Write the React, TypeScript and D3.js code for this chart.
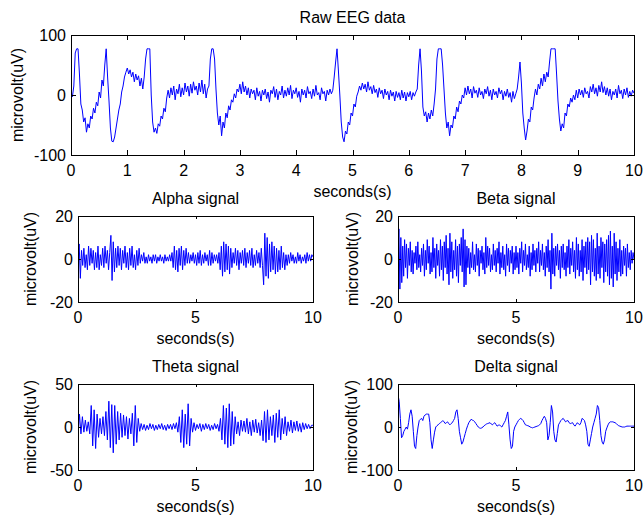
import * as d3 from "d3";

// values, evenly spaced over 0..10 s
// raw EEG, 0.025 s step (40 per second)
const rawEEG = [
  5, -3, 15, 70, 77, 77, 35, -15, -25, -45, -38, -62, -48, -55, -35, -40, -22, -30, -12, -18, 5, -5, 25, 15, 50, 77, 30, -10, -55, -77, -78, -70, -55, -40, -25, -15, 5, 15, 30, 38,
  45, 35, 42, 30, 38, 22, 35, 25, 32, 15, 28, 10, 30, 60, 77, 77, 77, 0, -45, -62, -55, -64, -48, -52, -35, -40, -22, -28, -5, 8, -5, 12, 0, 15, -8, 10, 2, 18, -3, 12,
  0, 20, 5, 15, -2, 18, 3, 22, 8, 15, 0, 20, 5, 25, 2, 18, -5, 10, 15, 60, 77, 77, 60, 10, -30, -50, -35, -68, -45, -55, -30, -38, -18, -25, -8, -12, 2, -5, 10, 5,
  18, 2, 22, 5, 15, 0, 12, -5, 10, 2, 8, -8, 12, -2, 6, -10, 8, 0, 10, -6, 5, -12, 8, 2, 14, -4, 10, -8, 6, 0, 15, -5, 8, -2, 12, 0, 16, -6, 8, 2,
  12, -4, 6, -12, 10, 0, 8, -5, 14, 2, 6, -6, 10, -2, 16, 0, 4, -8, 12, 2, 6, -10, 8, 0, 10, 2, 8, 30, 55, 77, 40, 0, -45, -70, -78, -60, -65, -45, -50, -30,
  -35, -15, -20, -2, 5, 15, 8, 20, 10, 18, 5, 22, 8, 14, 2, 16, 4, 10, -4, 12, 2, 8, -6, 10, 0, 6, -8, 8, -2, 5, -10, 6, -4, 4, -8, 8, -5, 5, -10, 4,
  -3, 6, -8, 4, -2, 5, 10, 50, 77, 40, -20, -35, -28, -45, -30, -40, -25, -35, -15, 10, 60, 77, 77, 77, 50, 10, -30, -55, -45, -68, -50, -55, -35, -40, -20, -28, -10, -15, 0, -5,
  12, 0, 15, 2, 10, -5, 14, 3, 8, -4, 12, 0, 6, -6, 10, 2, 14, -2, 8, -8, 10, 0, 6, -5, 12, 2, 8, -8, 6, -2, 10, -4, 4, -12, 6, -6, 2, 10, 30, 55,
  20, -30, -55, -75, -60, -40, -45, -20, -25, -5, 10, 0, 18, 10, 28, 15, 35, 22, 38, 30, 55, 77, 77, 77, 77, 35, -10, -40, -60, -48, -55, -30, -35, -15, -20, -5, -12, 0, -8, 8,
  -5, 10, 0, 8, -4, 12, 2, 6, -5, 14, 5, 18, 2, 12, -2, 16, 5, 22, 4, 14, 0, 12, -2, 10, -8, 6, 0, 10, -5, 16, 2, 8, -6, 10, 0, 12, -4, 6, -2, 8,
  3,
];

// alpha band, 0.05 s step
const alphaWave = [
  0, 7, -9, 4, -3, 5, -4, 2, -5, 6, -3, 5, -2, 4, -5, 3, -4, 6, -5, 2,
  -3, 5, -4, 6, -2, 4, -5, 3, 11, -10, 8, -6, 5, -4, 6, -3, 5, -5, 4, -2,
  6, -4, 3, -5, 5, -3, 6, -4, 2, -5, 4, -3, 5, -2, 2, -1, 3, -2, 1, -2,
  2, -1, 1, -2, 2, -1, 2, -2, 1, -1, 2, -1, 1, -2, 2, -1, 1, -1, 2, -1,
  3, -4, 6, -5, 4, -6, 5, -3, 6, -5, 4, -3, 5, -2, 3, -2, 2, -1, 3, -2,
  2, -3, 3, -2, 4, -3, 2, -2, 3, -1, 2, -3, 4, -3, 3, -2, 2, -1, 2, -2,
  3, -5, 6, -8, 8, -6, 7, -5, 6, -7, 5, -4, 3, -2, 5, -3, 4, -5, 3, -2,
  4, -3, 5, -4, 3, -2, 4, -3, 5, -4, 2, -3, 4, -2, 3, -4, 5, -3, -12, 12,
  -8, 10, -9, 7, -6, 8, -5, 6, -7, 5, -6, 4, -5, 6, -4, 3, -5, 2, -3, 2,
  -2, 3, -1, 2, -2, 1, -2, 3, -1, 2, -2, 1, -1, 2, -2, 3, -1, 2, -1, 2,
  1,
];

// beta band, 0.04 s step
const betaWave = [
  0, 14, -14, 10, -11, 6, -8, 9, -4, 7, -9, 5, -3, 8, -6, 4, -7, 3, -2, 6, -5, 8, -4, 2, -6,
  5, -3, 7, -8, 4, -5, 9, -2, 6, -7, 3, -6, 10, -4, 5, -9, 7, -3, 4, -8, 9, -5, 6, -10, 8,
  -4, 11, -7, 5, -12, 12, -6, 8, -9, 4, -5, 9, -8, 6, -11, 7, -3, 10, -6, 14, -13, 9, -12, 6, -4,
  5, -7, 3, -4, 8, -5, 2, -6, 7, -3, 5, -8, 4, -2, 6, -5, 3, -7, 10, -4, 6, -3, 5, -6, 2,
  -5, 7, -3, 4, -6, 5, -2, 8, -7, 3, -4, 6, -5, 2, -8, 7, -3, 5, -6, 4, -2, 6, -7, 3, -5,
  6, -4, 3, -7, 5, -2, 8, -6, 4, -3, 7, -5, 2, -4, 6, -8, 3, -5, 7, -3, 4, -6, 5, -2, 8,
  -6, 4, -3, 7, -5, 3, -8, 6, -4, 9, -6, 4, -14, 12, -7, 5, -8, 6, -3, 7, -5, 4, -9, 6, -4,
  7, -5, 3, -8, 6, -4, 9, -7, 5, -3, 8, -6, 4, -9, 10, -5, 7, -8, 4, -6, 9, -10, 6, -4, 8,
  -7, 10, -5, 8, -12, 11, -6, 9, -8, 5, -10, 12, -7, 6, -9, 10, -4, 8, -11, 7, -6, 9, -8, 11, -12,
  13, -9, 6, -13, 12, -7, 8, -10, 5, -6, 9, -8, 4, -7, 6, -3, 5, -8, 7, -4, 3, -5, 4, -2, 3,
  0,
];

// theta band, 0.0625 s step
const thetaWave = [
  -10, 15, -8, 12, -6, 8, -5, 6, -8, 25, -22, 20, -25, 15, -12, 10,
  -8, 12, -10, 18, -15, 30, -24, 26, -30, 25, -20, 18, -15, 16, -12, 14,
  -10, 12, -14, 10, -8, 16, -22, 25, -18, 10, -5, 4, -3, 3, -4, 2,
  -3, 4, -2, 3, -4, 2, -3, 3, -2, 4, -3, 2, -4, 3, -2, 3,
  -3, 4, -2, 5, -6, 12, -18, 20, -24, 15, -20, 27, -22, 10, -6, 5,
  -4, 3, -2, 4, -5, 3, -3, 4, -2, 3, -4, 2, -3, 4, -2, 3,
  -5, 10, -15, 25, -20, 22, -24, 27, -22, 18, -20, 12, -8, 6, -10, 8,
  -5, 7, -6, 10, -8, 6, -10, 8, -6, 9, -7, 5, -10, 8, -16, 18,
  -18, 20, -15, 12, -10, 14, -18, 16, -12, 20, -15, 10, -8, 12, -10, 6,
  -5, 8, -7, 6, -4, 7, -5, 4, -6, 5, -3, 4, -2, 3, -2, 2,
  2,
];

// delta band, 0.05 s step
const deltaWave = [
  75, 60, 20, -25, -20, -10, -5, 0, -5, 10, 30, 40, 25, -10, -45, -50, -20, 0, 15, 18,
  20, 15, 25, 28, 30, 30, 30, 10, -30, -50, -30, -12, 0, 3, 5, 8, 10, 12, 15, 12,
  8, 10, 12, 8, 5, 8, 10, 15, 20, 35, 40, 20, -10, -25, -40, -35, -25, -15, -5, 3,
  10, 14, 18, 16, 15, 12, 8, 4, 0, -2, -3, -2, 0, 3, 5, 7, 8, 9, 10, 7,
  5, 8, 10, 6, 2, 4, 5, 2, 0, 5, 10, 15, 25, 35, 5, -30, -50, -45, -10, 0,
  5, 10, 15, 18, 20, 18, 15, 10, 5, 4, 3, 2, 0, -1, -2, -1, 0, 1, 2, 3,
  5, 8, 15, 20, 25, 20, 10, -30, -20, 10, 50, 35, -10, -30, -35, -15, 5, 10, 15, 18,
  20, 16, 12, 14, 15, 10, 8, 9, 10, 5, 2, 6, 10, 7, 5, 10, 20, 18, 15, 5,
  -10, -40, -45, -30, -15, 0, 10, 20, 30, 50, 45, 15, -20, -35, -40, -30, -10, -2, 5, 10,
  12, 12, 12, 11, 10, 8, 5, 3, 2, 1, 0, 0, 0, 1, 2, 2, 2, 2, 2, 2,
  2,
];

const topXTicks = [0, 1, 2, 3, 4, 5, 6, 7, 8, 9, 10];
const smallXTicks = [0, 5, 10];

const FONT = "'Liberation Sans', Arial, Helvetica, sans-serif";
const FS = 16;

type PanelProps = {
  id: string;
  x0: number;
  x1: number;
  y0: number;
  y1: number;
  values: number[];
  yMax: number;
  xTicks: number[];
  title: string;
  ylabelX: number;
  tickLen: number;
};

function Panel({ id, x0, x1, y0, y1, values, yMax, xTicks, title, ylabelX, tickLen }: PanelProps) {
  const xScale = d3.scaleLinear().domain([0, 10]).range([x0, x1]);
  const yScale = d3.scaleLinear().domain([-yMax, yMax]).range([y1, y0]);
  const yTicks = [-yMax, 0, yMax];
  const dt = 10 / (values.length - 1);
  const line = d3
    .line<number>()
    .x((_, i) => xScale(i * dt))
    .y((d) => yScale(d));

  return (
    <g>
      <clipPath id={id}>
        <rect x={x0} y={y0} width={x1 - x0} height={y1 - y0} />
      </clipPath>
      <path d={line(values) || ""} fill="none" stroke="#0000ff" strokeWidth={1} clipPath={`url(#${id})`} />

      {/* ticks, inward on all four sides */}
      {xTicks.map((t) => {
        const x = Math.round(xScale(t)) + 0.5;
        return (
          <g key={"x" + t}>
            <line x1={x} x2={x} y1={y1} y2={y1 - tickLen} stroke="#000" />
            <line x1={x} x2={x} y1={y0} y2={y0 + tickLen} stroke="#000" />
            <text x={xScale(t)} y={y1 + 21} textAnchor="middle" fontSize={FS} fontFamily={FONT}>
              {t}
            </text>
          </g>
        );
      })}
      {yTicks.map((t) => {
        const y = Math.round(yScale(t)) + 0.5;
        return (
          <g key={"y" + t}>
            <line x1={x0} x2={x0 + tickLen} y1={y} y2={y} stroke="#000" />
            <line x1={x1} x2={x1 - tickLen} y1={y} y2={y} stroke="#000" />
            <text x={x0 - 5} y={yScale(t)} dy="0.35em" textAnchor="end" fontSize={FS} fontFamily={FONT}>
              {t}
            </text>
          </g>
        );
      })}
      <rect x={x0 + 0.5} y={y0 + 0.5} width={x1 - x0} height={y1 - y0} fill="none" stroke="#000" />

      <text x={(x0 + x1) / 2} y={y0 - 12} textAnchor="middle" fontSize={FS} fontFamily={FONT}>
        {title}
      </text>
      <text x={(x0 + x1) / 2} y={y1 + 42} textAnchor="middle" fontSize={FS} fontFamily={FONT}>
        seconds(s)
      </text>
      <text
        transform={`translate(${ylabelX},${(y0 + y1) / 2}) rotate(-90)`}
        textAnchor="middle"
        fontSize={FS}
        fontFamily={FONT}
      >
        microvolt(uV)
      </text>
    </g>
  );
}

export default function App() {
  return (
    <svg
      width={644}
      height={520}
      style={{ position: "absolute", left: 0, top: 0, background: "#fff" }}
    >
      <rect width={644} height={520} fill="#fff" />
      <Panel id="c0" x0={71} x1={634} y0={35} y1={155} values={rawEEG} yMax={100} xTicks={topXTicks} title="Raw EEG data" ylabelX={23} tickLen={5} />
      <Panel id="c1" x0={78} x1={313} y0={216} y1={302} values={alphaWave} yMax={20} xTicks={smallXTicks} title="Alpha signal" ylabelX={36} tickLen={3} />
      <Panel id="c2" x0={398} x1={634} y0={216} y1={302} values={betaWave} yMax={20} xTicks={smallXTicks} title="Beta signal" ylabelX={358} tickLen={3} />
      <Panel id="c3" x0={78} x1={313} y0={384} y1={470} values={thetaWave} yMax={50} xTicks={smallXTicks} title="Theta signal" ylabelX={36} tickLen={3} />
      <Panel id="c4" x0={398} x1={634} y0={384} y1={470} values={deltaWave} yMax={100} xTicks={smallXTicks} title="Delta signal" ylabelX={357} tickLen={3} />
    </svg>
  );
}
